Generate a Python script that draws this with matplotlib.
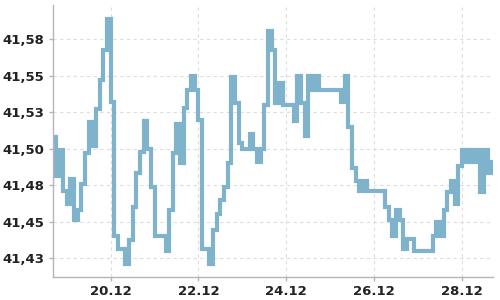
import matplotlib
matplotlib.use("Agg")
import matplotlib.pyplot as plt
import matplotlib.dates as mdates
import pandas as pd

# 2-hourly quotes, 18.12 16:00 -> 28.12 16:00
start = "2023-12-18 16:00"
rates = [
    41.508, 41.481, 41.499, 41.471, 41.462, 41.479, 41.451, 41.458, 41.476, 41.497,
    41.518, 41.502, 41.527, 41.547, 41.568, 41.589, 41.532, 41.440, 41.431, 41.431,
    41.421, 41.437, 41.460, 41.483, 41.498, 41.519, 41.500, 41.474, 41.440, 41.440,
    41.440, 41.430, 41.458, 41.497, 41.517, 41.490, 41.528, 41.540, 41.550, 41.540,
    41.520, 41.431, 41.431, 41.421, 41.444, 41.455, 41.465, 41.474, 41.490, 41.549,
    41.531, 41.504, 41.500, 41.500, 41.510, 41.500, 41.491, 41.500, 41.530, 41.581,
    41.568, 41.531, 41.545, 41.530, 41.530, 41.530, 41.519, 41.550, 41.531, 41.509,
    41.550, 41.540, 41.550, 41.540, 41.540, 41.540, 41.540, 41.540, 41.540, 41.532,
    41.550, 41.515, 41.487, 41.478, 41.471, 41.478, 41.471, 41.471, 41.471, 41.471,
    41.471, 41.460, 41.451, 41.440, 41.458, 41.451, 41.431, 41.438, 41.438, 41.430,
    41.430, 41.430, 41.430, 41.430, 41.440, 41.450, 41.440, 41.458, 41.470, 41.478,
    41.462, 41.488, 41.499, 41.491, 41.499, 41.491, 41.499, 41.470, 41.499, 41.483,
    41.491,
]
times = pd.date_range(start, periods=len(rates), freq="2h")

yticks = [41.425, 41.45, 41.475, 41.5, 41.525, 41.55, 41.575]
ylabels = ["41,43", "41,45", "41,48", "41,50", "41,53", "41,55", "41,58"]
xticks = pd.to_datetime(["2023-12-20", "2023-12-22", "2023-12-24", "2023-12-26", "2023-12-28"])

fig = plt.figure(figsize=(5, 3), dpi=100)
ax = fig.add_axes([0.106, 0.077, 0.88, 0.906])

ax.plot(times, rates, drawstyle="steps-post", color="#7fb3cc", lw=3, solid_joinstyle="miter")

ax.set_xlim(pd.Timestamp("2023-12-18 16:30"), pd.Timestamp("2023-12-28 17:00"))
ax.set_ylim(41.412, 41.5985)
ax.set_yticks(yticks)
ax.set_yticklabels(ylabels)
ax.set_xticks(xticks)
ax.xaxis.set_major_formatter(mdates.DateFormatter("%d.%m"))

ax.grid(True, color="#dddddd", linestyle=(0, (3, 3)), lw=0.8)
ax.set_axisbelow(True)
for s in ["top", "right"]:
    ax.spines[s].set_visible(False)
for s in ["left", "bottom"]:
    ax.spines[s].set_color("#b5b5b5")
    ax.spines[s].set_linewidth(1)
ax.tick_params(length=3, width=1, color="#b5b5b5", pad=3, labelsize=9.5, labelcolor="#222222")
for lab in ax.get_xticklabels() + ax.get_yticklabels():
    lab.set_fontweight("bold")

fig.savefig("out.png", dpi=100)
